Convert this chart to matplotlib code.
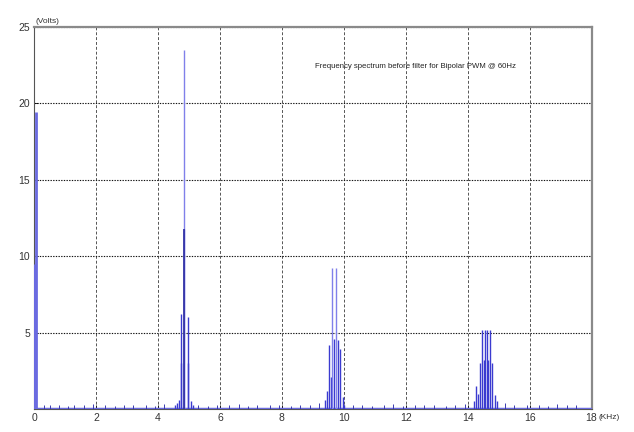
import matplotlib
matplotlib.use("Agg")
import matplotlib.pyplot as plt

# spectral lines (kHz, Volts)
fund_freq = [0.0, 0.06]
fund_amp = [9.5, 19.4]

band1_freq = [4.55, 4.62, 4.68, 4.73, 4.73, 4.85, 4.85, 4.98, 4.98, 5.05, 5.12]
band1_amp = [0.3, 0.4, 0.6, 6.2, 3.0, 23.5, 11.8, 6.0, 3.0, 0.5, 0.3]

band2_freq = [9.39, 9.45, 9.52, 9.57, 9.62, 9.68, 9.74, 9.80, 9.88, 9.96, 10.02]
band2_amp = [0.6, 1.2, 4.2, 2.1, 9.2, 4.6, 9.2, 4.5, 3.9, 0.8, 0.3]

band3_freq = [14.20, 14.27, 14.33, 14.39, 14.47, 14.52, 14.56, 14.63, 14.67, 14.72, 14.80, 14.88, 14.95]
band3_amp = [0.5, 1.5, 1.0, 3.0, 5.2, 3.2, 5.2, 5.2, 3.2, 5.2, 3.0, 0.9, 0.5]

noise_freq = [0.3, 0.5, 0.8, 1.1, 1.3, 1.6, 1.9, 2.3, 2.6, 2.9, 3.2, 3.6, 3.9, 4.2,
              5.3, 5.6, 5.9, 6.3, 6.6, 6.9, 7.2, 7.6, 7.9, 8.3, 8.6, 8.9, 9.2,
              10.3, 10.6, 10.9, 11.3, 11.6, 11.9, 12.3, 12.6, 12.9, 13.3, 13.6, 13.9,
              15.2, 15.5, 15.9, 16.3, 16.6, 16.9, 17.2, 17.5]
noise_amp = [0.3, 0.25, 0.3, 0.2, 0.3, 0.25, 0.35, 0.3, 0.2, 0.3, 0.25, 0.3, 0.2, 0.35,
             0.3, 0.2, 0.25, 0.3, 0.35, 0.2, 0.3, 0.25, 0.3, 0.2, 0.3, 0.25, 0.4,
             0.3, 0.25, 0.2, 0.3, 0.35, 0.2, 0.3, 0.25, 0.3, 0.2, 0.3, 0.35,
             0.4, 0.3, 0.25, 0.3, 0.2, 0.35, 0.3, 0.25]

xticks = [0, 2, 4, 6, 8, 10, 12, 14, 16, 18]
yticks = [0, 5, 10, 15, 20, 25]

plt.rcParams['font.family'] = ['Liberation Sans', 'DejaVu Sans']

fig = plt.figure(figsize=(6.34, 4.32), dpi=100)
ax = fig.add_axes([0.054, 0.053, 0.879, 0.885])

blue = "#3b3bd0"
light = "#8080ea"

# baseline / noise floor
ax.plot([0, 18], [0, 0], color="#6a6ae0", lw=2.5, zorder=3)
ax.vlines(noise_freq, 0, noise_amp, color="#3a3ab0", lw=0.7, zorder=3)

ax.vlines(fund_freq, 0, fund_amp, color="#6a6ae0", lw=2.0, zorder=3)

for fr, am in [(band1_freq, band1_amp), (band2_freq, band2_amp), (band3_freq, band3_amp)]:
    for f, a in zip(fr, am):
        c = light if a > 8 else blue
        ax.vlines(f, 0, a, color=c, lw=1.0, zorder=3)
# darker lower section of the tallest line
ax.vlines(band1_freq[6], 0, band1_amp[6], color="#2a2aa0", lw=1.2, zorder=4)

ax.set_xlim(0, 18)
ax.set_ylim(0, 25)
ax.set_xticks(xticks)
ax.set_yticks(yticks)
ax.set_xticklabels([str(t) for t in xticks], fontsize=7.5, color="#333333")
ax.set_yticklabels([""] + [str(t) for t in yticks[1:]], fontsize=7.5, color="#333333")
ax.tick_params(direction="in", length=3, width=0.6, pad=3)

# vertical grid dashed grey, horizontal grid dotted black
ax.xaxis.grid(True, color="#555555", linestyle=(0, (3, 2)), linewidth=0.7)
ax.yaxis.grid(True, color="#111111", linestyle=(0, (1.2, 1.2)), linewidth=0.8)
ax.set_axisbelow(True)
for s in ["top", "right"]:
    ax.spines[s].set_color("#8a8a8a")
    ax.spines[s].set_linewidth(1.6)
for s in ["left", "bottom"]:
    ax.spines[s].set_color("#555555")
    ax.spines[s].set_linewidth(0.8)

ax.text(0.002, 1.004, "(Volts)", transform=ax.transAxes, fontsize=6, color="#333333",
        ha="left", va="bottom")
ax.text(1.012, -0.012, "(KHz)", transform=ax.transAxes, fontsize=6, color="#333333",
        ha="left", va="top")
ax.text(0.503, 0.897, "Frequency spectrum before filter for Bipolar PWM @ 60Hz",
        transform=ax.transAxes, fontsize=5.6, color="#222222", ha="left", va="center")

fig.savefig("out.png", dpi=100)
